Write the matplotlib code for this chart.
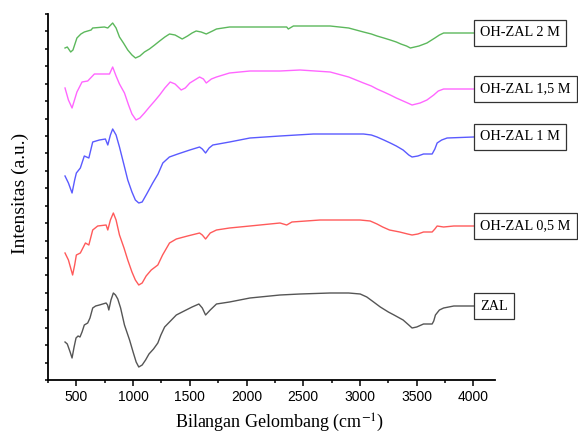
import numpy as np
import matplotlib
matplotlib.use("Agg")
import matplotlib.pyplot as plt
from matplotlib.ticker import MultipleLocator

# FTIR spectra (wavenumber in cm-1, intensity in a.u.)
wn_zal = [400, 420, 445, 462, 480, 497, 515, 532, 550, 570, 600, 620, 644, 670, 703, 762, 775, 786,
          805, 826, 845, 865, 890, 924, 945, 969, 1000, 1027, 1050, 1080, 1110, 1140, 1180, 1218,
          1245, 1278, 1321, 1381, 1450, 1520, 1580, 1610, 1639, 1680, 1735, 1850, 2030, 2295, 2472,
          2737, 2900, 3002, 3060, 3120, 3179, 3250, 3300, 3380, 3430, 3459, 3500, 3560, 3636, 3650,
          3665, 3700, 3737, 3827, 4000]
int_zal = [38, 36, 28, 22, 33, 42, 44, 43, 48, 55, 57, 62, 72, 74, 75, 77, 75, 70,
           80, 87, 85, 81, 72, 55, 48, 40, 28, 18, 13, 15, 20, 26, 31, 37,
           45, 53, 58, 65, 69, 73, 76, 72, 65, 70, 76, 78, 82, 85, 86,
           87, 87, 86, 83, 78, 73, 68, 65, 60, 55, 52, 53, 56, 56, 59,
           65, 70, 72, 74, 74]

wn_05 = [400, 430, 467, 485, 500, 535, 580, 610, 644, 688, 762, 777, 800, 826, 850, 880, 920, 953,
         990, 1020, 1050, 1080, 1115, 1160, 1218, 1260, 1321, 1381, 1480, 1586, 1610, 1639, 1680,
         1735, 1850, 2030, 2295, 2354, 2400, 2648, 3000, 3090, 3150, 3200, 3260, 3350, 3420, 3459,
         3510, 3560, 3636, 3660, 3680, 3737, 3827, 4000]
int_05 = [127, 120, 105, 115, 125, 127, 137, 135, 150, 154, 155, 150, 160, 167, 160, 145, 132, 120,
          108, 100, 95, 97, 104, 110, 115, 125, 137, 141, 144, 147, 145, 141, 147,
          150, 152, 154, 157, 155, 158, 160, 160, 159, 156, 153, 150, 148, 146, 145,
          146, 148, 148, 151, 154, 153, 154, 154]

wn_1 = [400, 430, 462, 485, 500, 535, 570, 610, 644, 703, 756, 777, 800, 820, 850, 880, 920, 953,
        990, 1020, 1050, 1080, 1120, 1173, 1220, 1262, 1320, 1394, 1500, 1586, 1610, 1639, 1670,
        1703, 1850, 2030, 2295, 2589, 3031, 3100, 3150, 3210, 3267, 3320, 3380, 3430, 3459, 3510,
        3560, 3636, 3660, 3680, 3720, 3768, 4000]
int_1 = [204, 197, 187, 200, 207, 212, 224, 222, 238, 240, 241, 235, 245, 251, 245, 233, 215, 200,
         188, 180, 177, 178, 186, 197, 206, 217, 223, 226, 230, 233, 231, 227, 232,
         235, 238, 242, 244, 246, 246, 245, 243, 240, 237, 234, 230, 225, 223, 224,
         226, 226, 231, 237, 240, 242, 243]

wn_15 = [400, 430, 462, 505, 550, 600, 659, 762, 792, 820, 850, 880, 924, 960, 990, 1026, 1060,
         1100, 1144, 1190, 1234, 1280, 1327, 1370, 1424, 1460, 1500, 1586, 1620, 1645, 1690, 1735,
         1850, 2030, 2295, 2472, 2737, 2900, 3031, 3100, 3150, 3210, 3267, 3320, 3360, 3420, 3459,
         3530, 3590, 3650, 3690, 3737, 4000]
int_15 = [292, 280, 272, 288, 298, 299, 306, 306, 306, 313, 304, 296, 287, 275, 266, 260, 262,
          267, 273, 279, 285, 292, 298, 296, 290, 292, 297, 303, 301, 297, 301, 303,
          307, 309, 309, 310, 308, 303, 297, 294, 291, 288, 285, 282, 280, 277, 275,
          277, 280, 285, 289, 291, 291]

wn_2 = [400, 420, 450, 470, 505, 540, 570, 630, 644, 747, 777, 820, 850, 880, 915, 953, 990, 1021,
        1060, 1100, 1144, 1190, 1234, 1280, 1321, 1370, 1433, 1480, 1520, 1556, 1600, 1645, 1700,
        1735, 1850, 2030, 2354, 2368, 2413, 2737, 2900, 3031, 3100, 3150, 3210, 3267, 3320, 3360,
        3410, 3444, 3520, 3590, 3660, 3700, 3737, 3800, 4000]
int_2 = [332, 333, 328, 330, 342, 346, 348, 350, 352, 353, 352, 357, 352, 343, 337, 330, 325, 322,
         324, 328, 331, 335, 339, 343, 346, 345, 341, 344, 347, 349, 348, 346, 349,
         351, 353, 353, 353, 351, 354, 354, 352, 348, 346, 344, 342, 340, 338, 336,
         334, 332, 334, 337, 342, 345, 347, 347, 347]

labels = ["ZAL", "OH-ZAL 0,5 M", "OH-ZAL 1 M", "OH-ZAL 1,5 M", "OH-ZAL 2 M"]
colors = ["#555555", "#ff5a5a", "#5a5aff", "#ff66ff", "#5cb85c"]
spectra = [(wn_zal, int_zal), (wn_05, int_05), (wn_1, int_1), (wn_15, int_15), (wn_2, int_2)]

plt.rcParams["mathtext.fontset"] = "stix"

fig = plt.figure(figsize=(5.78, 4.36), dpi=100)
ax = fig.add_axes([48 / 578, 56 / 436, 447 / 578, 366 / 436])

for (w, i), lab, c in zip(spectra, labels, colors):
    ax.plot(w, i, color=c, lw=1.0)
    ax.annotate(lab, xy=(w[-1], i[-1]), xytext=(5, 0), textcoords="offset points",
                ha="left", va="center", fontsize=10.3, family="Liberation Serif",
                annotation_clip=False,
                bbox=dict(boxstyle="square,pad=0.42", fc="white", ec="#333333", lw=0.9))

ax.set_xlim(250, 4190)
ax.set_ylim(0, 366)
ax.set_xticks([500, 1000, 1500, 2000, 2500, 3000, 3500, 4000])
ax.xaxis.set_minor_locator(MultipleLocator(250))
ax.set_yticks(np.linspace(0, 366, 22))
ax.set_yticklabels([])
for lbl in ax.get_xticklabels():
    lbl.set_family("Liberation Sans")
    lbl.set_fontsize(10)

ax.tick_params(axis="x", which="major", direction="out", length=4, width=1.1, pad=3)
ax.tick_params(axis="x", which="minor", direction="out", length=2.5, width=1.1)
ax.tick_params(axis="y", direction="out", length=2.5, width=1.1)

ax.spines["top"].set_visible(False)
ax.spines["right"].set_visible(False)
ax.spines["left"].set_linewidth(1.3)
ax.spines["bottom"].set_linewidth(1.3)

ax.set_xlabel("Bilangan Gelombang (cm$^{-1}$)", fontsize=13, family="Liberation Serif")
ax.set_ylabel("Intensitas (a.u.)", fontsize=14, family="Liberation Serif")
ax.xaxis.set_label_coords(0.519, -0.088)
ax.yaxis.set_label_coords(-0.043, 0.51)

fig.savefig("out.png", dpi=100)
